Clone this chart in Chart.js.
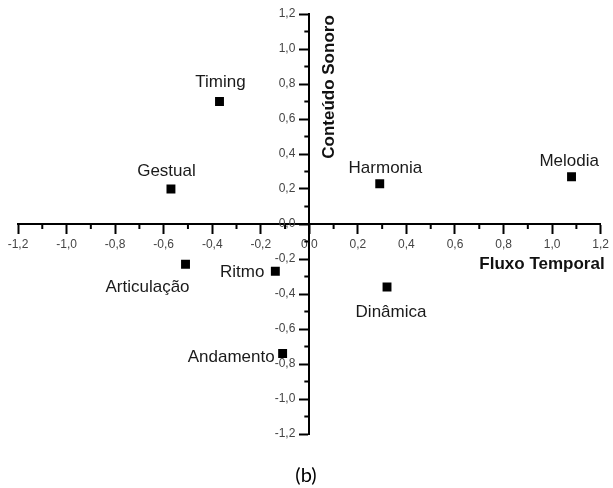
<!DOCTYPE html>
<html>
<head>
<meta charset="utf-8">
<script src="https://cdn.jsdelivr.net/npm/chart.js@4/dist/chart.umd.min.js"></script>
<style>
html,body{margin:0;padding:0;background:#fff;}
#wrap{width:613px;height:488px;position:relative;}
canvas{display:block;}
</style>
</head>
<body>
<div id="wrap"><canvas id="c" width="613" height="488"></canvas></div>
<script>
// ---- data ----
const names = ['Timing','Gestual','Harmonia','Melodia','Dinâmica','Articulação','Ritmo','Andamento'];
const xValues = [-0.37, -0.57, 0.29, 1.08, 0.32, -0.51, -0.14, -0.11];
const yValues = [0.70, 0.20, 0.23, 0.27, -0.36, -0.23, -0.27, -0.74];
const xTitle = 'Fluxo Temporal';
const yTitle = 'Conteúdo Sonoro';
const caption = '(b)';

// ---- label placement (style) ----
const labelDX = [1, -4.5, 5.7, -2.3, 4, -38, -11, -8];
const labelDY = [-14.4, -13.3, -11, -10.6, 30, 27.4, 5.7, 8];
const labelAlign = ['center','center','center','center','center','center','right','right'];

const FONT = "'Liberation Sans', Arial, sans-serif";
const fmt = v => {
  const s = (Math.round(v * 10) / 10).toFixed(1).replace('.', ',');
  return s === '-0,0' ? '0,0' : s;
};

const decor = {
  id: 'decor',
  afterDraw(chart) {
    const ctx = chart.ctx;
    const xs = chart.scales.x, ys = chart.scales.y;
    const x0 = xs.getPixelForValue(0), y0 = ys.getPixelForValue(0);
    ctx.save();
    // minor ticks
    ctx.strokeStyle = '#000';
    ctx.lineWidth = 2;
    for (let i = -6; i <= 5; i++) {
      const v = (2 * i + 1) / 10;
      const px = xs.getPixelForValue(v);
      ctx.beginPath(); ctx.moveTo(px, y0); ctx.lineTo(px, y0 + 5); ctx.stroke();
      const py = ys.getPixelForValue(v);
      ctx.beginPath(); ctx.moveTo(x0, py); ctx.lineTo(x0 - 5, py); ctx.stroke();
    }
    // y tick labels (left of the crossing axis)
    ctx.font = "12px " + FONT;
    ctx.fillStyle = '#444';
    ctx.textAlign = 'right';
    ctx.textBaseline = 'middle';
    ys.ticks.forEach(t => {
      ctx.fillText(fmt(t.value), x0 - 14, ys.getPixelForValue(t.value));
    });
    // axis titles
    ctx.fillStyle = '#111';
    ctx.font = "bold 17px " + FONT;
    ctx.textAlign = 'right';
    ctx.textBaseline = 'alphabetic';
    ctx.fillText(xTitle, xs.right + 4, y0 + 45);
    ctx.save();
    ctx.translate(x0 + 25, ys.top + 73);
    ctx.rotate(-Math.PI / 2);
    ctx.textAlign = 'center';
    ctx.fillText(yTitle, 0, 0);
    ctx.restore();
    // point labels
    const meta = chart.getDatasetMeta(0);
    ctx.font = "17px " + FONT;
    ctx.fillStyle = '#1a1a1a';
    meta.data.forEach((pt, i) => {
      ctx.textAlign = labelAlign[i];
      ctx.fillText(names[i], pt.x + labelDX[i], pt.y + labelDY[i]);
    });
    // caption
    ctx.font = "20px Lato, 'Open Sans', sans-serif";
    ctx.fillStyle = '#000';
    ctx.textAlign = 'center';
    ctx.fillText(caption, 306, 482);
    ctx.restore();
  }
};

new Chart(document.getElementById('c'), {
  type: 'scatter',
  data: {
    datasets: [{
      data: names.map((n, i) => ({ x: xValues[i], y: yValues[i] })),
      pointStyle: 'rect',
      pointRadius: 6.3,
      backgroundColor: '#000',
      borderColor: '#000',
      borderWidth: 0
    }]
  },
  options: {
    responsive: false,
    animation: false,
    layout: { padding: { left: 18, right: 11, top: 14, bottom: 54 } },
    plugins: { legend: { display: false }, tooltip: { enabled: false }, title: { display: false } },
    scales: {
      x: {
        type: 'linear', min: -1.2, max: 1.2,
        position: { y: 0 },
        grid: { drawOnChartArea: false, drawTicks: true, tickLength: 9, tickColor: '#000', tickWidth: 2 },
        border: { color: '#000', width: 2 },
        ticks: { stepSize: 0.2, autoSkip: false, maxRotation: 0, padding: 4, color: '#444',
                 font: { family: FONT, size: 12 }, callback: v => fmt(v) }
      },
      y: {
        type: 'linear', min: -1.2, max: 1.2,
        position: { x: 0 },
        grid: { drawOnChartArea: false, drawTicks: true, tickLength: 9, tickColor: '#000', tickWidth: 2 },
        border: { color: '#000', width: 2 },
        ticks: { stepSize: 0.2, autoSkip: false, display: false }
      }
    }
  },
  plugins: [decor]
});
</script>
</body>
</html>
